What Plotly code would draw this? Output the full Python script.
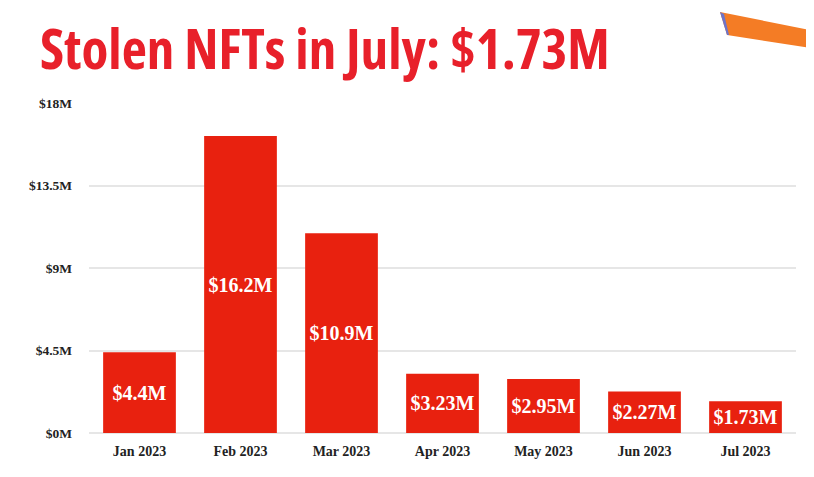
import plotly.graph_objects as go

months = ["Jan 2023", "Feb 2023", "Mar 2023", "Apr 2023", "May 2023", "Jun 2023", "Jul 2023"]
stolen_musd = [4.4, 16.2, 10.9, 3.23, 2.95, 2.27, 1.73]
bar_labels = ["$4.4M", "$16.2M", "$10.9M", "$3.23M", "$2.95M", "$2.27M", "$1.73M"]
y_tick_vals = [0, 4.5, 9, 13.5, 18]
y_tick_text = ["$0M", "$4.5M", "$9M", "$13.5M", "$18M"]
title_text = "Stolen NFTs in July: $1.73M"

# page is rendered with an 8px body margin; compensate
OFF = 8
PW, PH = 814, 477               # page size
W, H = PW - OFF, PH - OFF       # figure size
PL, PR, PT, PB = 89, 796, 103, 433   # plot area in page pixels
L, T = PL - OFF, PT - OFF
R, B = PW - PR, PH - PB

def px(x):
    return (x - PL) / (PR - PL)

def py(y):
    return (PB - y) / (PB - PT)

fig = go.Figure(go.Bar(
    x=months, y=stolen_musd, text=bar_labels,
    textposition="inside", insidetextanchor="middle", textangle=0,
    textfont=dict(family="Liberation Serif", size=20, color="white", weight="bold"),
    marker=dict(color="#E8210F", line=dict(width=0)),
    cliponaxis=False,
))

xtickfont = dict(family="Liberation Serif", size=14, color="#222", weight="bold")
ytickfont = dict(family="Liberation Serif", size=13.5, color="#222", weight="bold")

fig.update_layout(
    width=W, height=H,
    margin=dict(l=L, r=R, t=T, b=B),
    paper_bgcolor="white", plot_bgcolor="white",
    bargap=0.28,
    showlegend=False,
    xaxis=dict(showgrid=False, showline=False, zeroline=False, ticks="",
               tickfont=xtickfont, ticklabelstandoff=8),
    yaxis=dict(range=[0, 18], tickvals=y_tick_vals, ticktext=y_tick_text,
               showgrid=True, gridcolor="#E6E6E6", gridwidth=2,
               zeroline=True, zerolinecolor="#E6E6E6", zerolinewidth=2,
               showline=False, ticks="",
               tickfont=ytickfont, ticklabelstandoff=16),
    annotations=[dict(
        text=f'<span style="font-stretch:condensed">{title_text}</span>',
        xref="paper", yref="paper",
        x=px(38), y=py(48), xanchor="left", yanchor="middle", showarrow=False,
        font=dict(family="Open Sans", size=55, color="#E8202A", weight="bold"),
    )],
    shapes=[dict(
        type="path", xref="paper", yref="paper",
        path=f"M {px(720)},{py(12)} L {px(830)},{py(34)} L {px(830)},{py(51)} L {px(727)},{py(35)} Z",
        fillcolor="#F47C25", line=dict(width=0), layer="above",
    ), dict(
        type="path", xref="paper", yref="paper",
        path=f"M {px(720)},{py(12)} L {px(724)},{py(14)} L {px(729)},{py(35)} L {px(727)},{py(35)} Z",
        fillcolor="#6E74C9", line=dict(width=0), layer="above",
    )],
)

fig.write_html("out.html")
